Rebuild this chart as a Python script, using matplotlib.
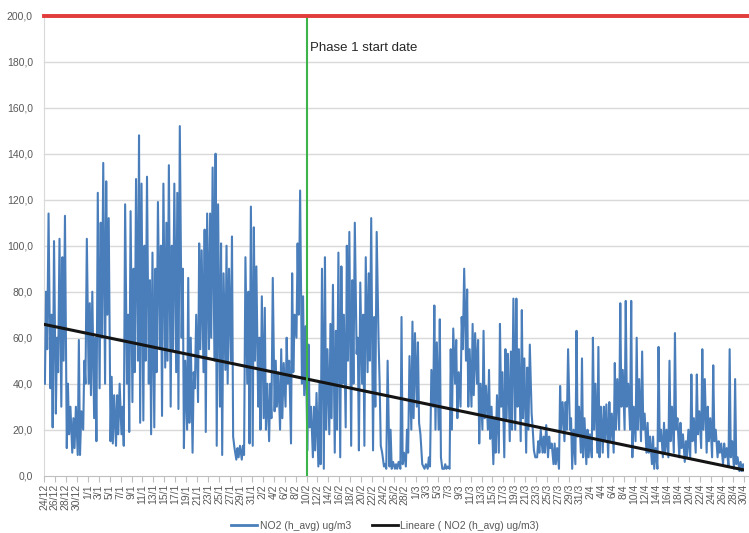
import matplotlib
matplotlib.use("Agg")
import matplotlib.pyplot as plt
from matplotlib.lines import Line2D
import numpy as np

plt.rcParams['font.family'] = ['Liberation Sans', 'DejaVu Sans']

# ---- data (ug/m3), one entry per day from 24/12 to 30/4 ----
night_low = [40, 38, 27, 30, 12, 10, 9, 20, 40, 25, 38, 40, 15, 13, 18, 40, 32, 50, 24, 40,
             21, 55, 47, 30, 45, 60, 20, 10, 32, 45, 55, 50, 30, 46, 50, 7, 7, 40, 13, 30,
             25, 15, 28, 20, 30, 14, 60, 40, 11, 8, 4, 3, 18, 10, 8, 21, 13, 53, 40, 45,
             11, 60, 4, 4, 3, 3, 4, 20, 30, 5, 3, 30, 20, 3, 3, 40, 30, 50, 30, 40,
             20, 20, 5, 10, 8, 15, 20, 15, 10, 27, 8, 10, 8, 5, 3, 15, 20, 5, 10, 5,
             8, 10, 10, 8, 10, 20, 20, 20, 15, 15, 10, 5, 3, 8, 8, 10, 8, 6, 8, 10,
             12, 10, 8, 8, 5, 4, 3, 2, 2]
morning_peak = [80, 70, 60, 95, 40, 25, 59, 50, 75, 60, 110, 128, 43, 35, 30, 70, 90, 148, 100, 85,
                90, 100, 110, 100, 123, 90, 86, 45, 101, 107, 114, 140, 101, 100, 104, 12, 13, 80, 108, 60,
                73, 40, 50, 55, 60, 88, 101, 78, 57, 30, 40, 95, 66, 63, 91, 100, 85, 60, 70, 88,
                69, 40, 5, 20, 5, 69, 20, 67, 58, 4, 8, 74, 68, 5, 55, 59, 69, 81, 66, 59,
                63, 46, 25, 66, 55, 54, 77, 72, 47, 20, 15, 17, 17, 14, 39, 32, 25, 63, 51, 20,
                60, 56, 30, 32, 49, 75, 76, 76, 60, 54, 23, 17, 56, 23, 50, 62, 23, 15, 44, 44,
                55, 30, 48, 15, 14, 55, 42, 6, 8]
midday_low = [55, 21, 45, 50, 18, 12, 9, 40, 35, 15, 60, 70, 14, 18, 13, 19, 45, 23, 50, 18,
              45, 26, 50, 55, 29, 12, 23, 38, 55, 19, 60, 13, 9, 40, 17, 8, 9, 14, 50, 20,
              20, 25, 30, 25, 40, 45, 70, 35, 21, 11, 5, 20, 25, 20, 40, 50, 40, 11, 13, 50,
              30, 13, 3, 3, 3, 5, 10, 25, 23, 3, 4, 20, 8, 3, 20, 25, 55, 30, 35, 14,
              25, 16, 10, 30, 25, 20, 30, 25, 20, 11, 10, 10, 12, 5, 20, 20, 3, 17, 8, 8,
              20, 8, 15, 15, 20, 30, 30, 8, 20, 20, 10, 3, 15, 10, 15, 20, 12, 8, 15, 18,
              20, 15, 15, 10, 8, 8, 5, 2, 3]
evening_peak = [114, 102, 103, 113, 30, 30, 28, 103, 80, 123, 136, 112, 35, 40, 118, 115, 129, 127, 130, 97,
                119, 127, 135, 127, 152, 50, 60, 70, 98, 114, 134, 118, 88, 90, 12, 13, 95, 117, 91, 78,
                40, 86, 45, 49, 50, 70, 124, 65, 30, 36, 90, 55, 83, 97, 70, 106, 110, 84, 95, 112,
                106, 10, 50, 6, 6, 10, 52, 62, 18, 5, 46, 58, 3, 4, 64, 45, 90, 55, 62, 40,
                39, 30, 35, 45, 53, 77, 55, 51, 57, 8, 20, 22, 14, 12, 32, 55, 20, 30, 25, 18,
                40, 30, 31, 27, 42, 46, 40, 30, 42, 27, 17, 12, 20, 20, 30, 25, 18, 20, 25, 28,
                42, 25, 20, 14, 12, 15, 8, 5, 6]

tick_labels = ['24/12', '26/12', '28/12', '30/12',
               '1/1', '3/1', '5/1', '7/1', '9/1', '11/1', '13/1', '15/1', '17/1', '19/1', '21/1',
               '23/1', '25/1', '27/1', '29/1', '31/1',
               '2/2', '4/2', '6/2', '8/2', '10/2', '12/2', '14/2', '16/2', '18/2', '20/2', '22/2',
               '24/2', '26/2', '28/2',
               '1/3', '3/3', '5/3', '7/3', '9/3', '11/3', '13/3', '15/3', '17/3', '19/3', '21/3',
               '23/3', '25/3', '27/3', '29/3', '31/3',
               '2/4', '4/4', '6/4', '8/4', '10/4', '12/4', '14/4', '16/4', '18/4', '20/4', '22/4',
               '24/4', '26/4', '28/4', '30/4']

trend_days = [0, 128]
trend_values = [65.8, 2.5]
limit_value = 200.0
phase1_day = 48
y_ticks = [0, 20, 40, 60, 80, 100, 120, 140, 160, 180, 200]
y_tick_labels = ['0,0', '20,0', '40,0', '60,0', '80,0', '100,0', '120,0', '140,0', '160,0', '180,0', '200,0']

series_label = 'NO2 (h_avg) ug/m3'
trend_label = 'Lineare ( NO2 (h_avg) ug/m3)'
annotation = 'Phase 1 start date'

# ---- build the time axis (fractional days) ----
days = np.arange(len(night_low))
hour_offsets = np.array([4, 9, 14, 20]) / 24.0
t = (days[:, None] + hour_offsets[None, :]).ravel()
values = np.column_stack([night_low, morning_peak, midday_low, evening_peak]).ravel()

W, H = 749, 533
fig = plt.figure(figsize=(W / 100, H / 100), dpi=100)
ax = fig.add_axes([44 / W, 57.3 / H, 700 / W, (517.3 - 57.3) / H])

gray = '#595959'
# horizontal gridlines running to the right edge of the figure
for yt in y_ticks[1:-1]:
    ax.plot([0, 1.01], [yt, yt], transform=ax.get_yaxis_transform(), color='#d9d9d9',
            lw=1.0, clip_on=False, zorder=1)
ax.plot(t, values, color='#4a7ebb', lw=1.5, zorder=3)
ax.plot(trend_days, trend_values, color='#141414', lw=2.2, zorder=4)
ax.plot([0, 1.01], [limit_value, limit_value], transform=ax.get_yaxis_transform(),
        color='#e23b3b', lw=2.8, clip_on=False, zorder=5)
ax.axvline(phase1_day, color='#3bb54a', lw=1.5, zorder=4)
ax.text(phase1_day + 0.7, 186, annotation, fontsize=9.5, va='center', ha='left', color='#262626')

ax.set_xlim(0, 128)
ax.set_ylim(0, limit_value)
ax.set_yticks(y_ticks)
ax.set_yticklabels(y_tick_labels)
ax.set_xticks(np.arange(len(tick_labels)) * 2)
ax.set_xticklabels(tick_labels, rotation=90)
ax.tick_params(axis='y', length=0, pad=8, labelsize=7.5, labelcolor=gray)
ax.tick_params(axis='x', length=4, width=0.8, color='#bfbfbf', pad=2, labelsize=7.5, labelcolor=gray)

for s in ['top', 'right']:
    ax.spines[s].set_visible(False)
ax.spines['left'].set_color('#d9d9d9')
ax.spines['bottom'].set_color('#bfbfbf')
ax.plot([1, 1.01], [0, 0], transform=ax.get_yaxis_transform(), color='#bfbfbf', lw=0.8, clip_on=False)

handles = [Line2D([], [], color='#4a7ebb', lw=2), Line2D([], [], color='#141414', lw=2)]
leg = fig.legend(handles, [series_label, trend_label], loc='center', bbox_to_anchor=(385 / W, 7 / H),
                 ncol=2, frameon=False, fontsize=7.5, handlelength=2.5, columnspacing=2.0,
                 handletextpad=0.2, borderpad=0)
for txt in leg.get_texts():
    txt.set_color(gray)

fig.savefig('out.png', dpi=100)
